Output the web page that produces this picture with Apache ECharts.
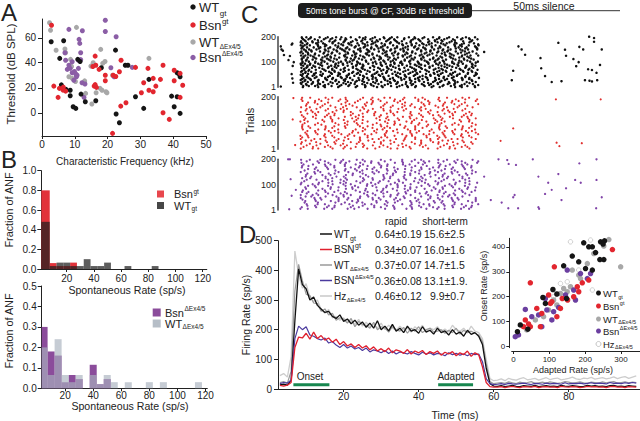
<!DOCTYPE html>
<html><head><meta charset="utf-8">
<script src="https://cdn.jsdelivr.net/npm/echarts@6/dist/echarts.min.js"></script>
<style>html,body{margin:0;padding:0;background:#fff}#c{width:640px;height:421px}</style>
</head><body><div id="c"></div>
<script>
// ---------- Panel A: threshold vs CF [kHz, dB SPL] ----------
const aWtGt = [[2.8,56.8],[6.6,57.6],[5.4,43.5],[10.9,42.7],[11.6,41],[22.4,50.1],[18.1,36],[25.4,38],[26.2,38],[5.9,22.3],[7.3,18.7],[8.6,18],[8.6,13.6],[11.9,14.9],[9.5,4.8],[10.3,3.5],[13.2,8.8],[16.4,9.6],[22.6,-1],[23.6,-8],[28.5,12.8],[31,3.5],[32.6,26.7],[39.5,13.3],[41.2,12.8],[40.3,4.8],[42.1,-0.5],[41.2,32],[42.1,28.8],[41.8,31]];
const aBsnGt = [[2.9,70],[3.6,21.3],[5.3,19.5],[6.4,18.1],[7.2,17.3],[4.9,12.3],[6.5,20.5],[16.2,45.3],[16.4,38],[17.4,34.7],[15.9,21.3],[16.6,20.3],[16.2,22.5],[19.3,30],[19.3,25.6],[21.7,30],[22.5,29],[23.6,32.8],[24.1,42],[21.5,-16.5],[24,5.3],[25.6,8],[28.5,36.3],[32.3,35.5],[31,24],[32.6,18],[33.9,27.5],[34.7,21.3],[33.9,16.8],[36.1,26.7],[36.9,38],[30.3,16],[40.3,34],[40.3,25.6],[42.9,22],[42.1,12.3],[36.9,0],[38.8,-5.3],[42.1,31.5],[15.5,37]];
const aWtD = [[2.3,72],[2.6,66],[4.3,50],[7,51],[7.2,48],[8.7,42.7],[10.5,68.3],[17.7,75.5],[17.9,50.7],[15.6,40],[14.9,37.3],[18.5,39.5],[19.2,41],[9,37],[8.2,28.8],[9.2,27.5],[10.2,25],[13,24.8],[13.3,15.5],[17.7,19.5],[18.3,18],[19.5,16.8],[16.5,16],[15.2,7],[32.6,43.5],[21.5,30],[13,25.5],[8.5,38],[19.8,16]];
const aBsnD = [[8.2,66.7],[19.3,74],[12.3,65.6],[11.3,58.7],[11.5,55.5],[11.8,48],[22.6,60.8],[19.3,65],[7,48],[7.2,42],[9.2,40.8],[11.1,42],[11.8,42.5],[7.7,34.7],[8.6,35.5],[9.2,32],[9.9,33],[10.3,31],[11.1,35.5],[10.5,28.8],[9.7,26],[21,36],[12.8,12.3],[22,28.8],[27.5,36.3],[10.7,30],[8.2,38],[12.2,24],[13.1,23]];

// ---------- Panel B: spontaneous rate histograms ----------
const topBins   = [5,10,15,20,25,30,35,40,45,50,65,85];
const bsnGtFrac = [0.80,0.06,0.03,0.03,0.065,0,0,0,0,0,0,0];
const wtGtFrac  = [0.48,0.03,0.065,0.065,0.03,0.03,0.10,0.03,0.03,0.065,0.03,0.03];
const botBins   = [5,10,15,20,25,30,40,45,50,55,65,80,90,115];
const bsnDFrac  = [0.30,0.18,0.16,0.03,0.065,0.045,0.115,0.02,0.045,0,0,0,0,0];
const wtDFrac   = [0.20,0.065,0.24,0.065,0.03,0.065,0.065,0.02,0.065,0.03,0.03,0.03,0.03,0.03];

// ---------- Panel C: rasters (time ms re tone onset, trial) ----------
const blackRows = [
[198,0.8,2.1,3.4,5.9,8.2,10.6,12.1,14.8,17.3,19.0,21.7,24.2,26.5,28.1,31.4,33.0,35.8,38.3,40.1,42.9,45.2,47.7,50.3],
[190,1.2,2.7,4.5,7.1,9.0,11.8,13.5,16.2,18.9,20.4,23.1,25.7,27.2,30.0,32.6,34.1,36.9,39.4,41.5,44.0,46.3,48.8,51.0],
[182,0.6,1.9,3.8,6.4,8.7,10.1,13.0,15.3,17.8,20.9,22.5,24.9,27.8,29.4,31.9,34.7,37.2,38.9,41.0,43.6,46.9,49.2],
[174,1.0,2.4,4.9,6.9,9.6,11.3,14.1,16.7,18.2,21.2,23.6,26.0,28.6,30.7,33.5,35.2,37.9,40.6,42.2,45.0,47.1,50.0],
[166,0.5,1.6,3.1,5.4,7.8,10.4,12.6,15.0,17.1,19.6,22.0,24.5,26.9,29.7,32.2,34.4,36.4,39.0,41.8,44.5,46.0,48.5,51.3],
[158,0.9,2.3,4.2,6.1,8.9,11.0,13.8,15.9,18.5,20.7,23.4,25.3,28.0,30.4,32.9,35.5,38.0,40.4,42.6,45.6,47.9,50.6],
[150,1.4,2.9,5.0,7.4,9.9,12.3,14.4,16.9,19.4,21.5,24.0,26.3,29.0,31.1,33.7,36.2,38.6,41.2,43.3,46.1,48.3,50.9],
[142,0.7,2.0,3.6,6.0,8.4,10.9,13.2,15.6,17.6,20.1,22.8,25.0,27.5,29.9,32.4,34.9,37.5,39.8,42.4,44.8,47.4,49.6],
[134,1.1,2.6,4.6,7.0,9.3,11.6,14.0,16.4,19.1,21.0,23.9,26.6,28.4,31.0,33.3,35.9,38.1,40.8,43.1,45.4,48.0,50.7],
[126,0.6,1.8,3.3,5.7,8.0,10.3,12.9,15.2,17.5,20.0,22.3,24.7,27.0,29.6,32.0,34.5,36.7,39.3,41.9,44.2,46.6,49.0,51.2],
[118,1.3,2.5,4.4,6.7,9.1,11.5,13.7,16.0,18.7,21.3,23.3,25.9,28.3,30.9,33.1,35.6,38.4,40.9,43.4,45.8,48.6],
[110,0.8,2.2,3.9,6.3,8.5,10.8,13.3,15.7,18.0,20.6,22.9,25.5,27.7,30.2,32.7,35.0,37.4,39.6,42.0,44.7,47.2,49.9],
[102,1.0,2.8,4.7,7.3,9.8,12.0,14.5,16.6,19.2,21.8,24.4,26.2,29.2,31.5,33.9,36.5,38.8,41.4,43.8,46.4,48.9,51.1],
[94,0.5,1.7,3.2,5.5,8.1,10.5,12.5,15.1,17.4,19.8,22.1,24.8,27.3,29.5,31.8,34.3,37.0,39.2,41.6,44.3,46.8,49.4],
[86,1.2,2.4,4.1,6.6,9.2,11.2,13.9,16.3,18.4,21.1,23.7,26.1,28.5,30.8,33.6,36.0,38.2,40.7,43.0,45.5,47.8,50.4],
[78,0.7,2.1,3.7,5.8,8.3,10.7,13.1,15.4,17.9,20.3,22.6,25.2,27.6,30.1,32.3,34.8,37.3,39.9,42.3,44.9,47.5,49.8],
[70,1.5,2.9,4.8,7.2,9.5,11.9,14.2,16.8,18.8,21.4,24.1,26.4,28.8,31.2,33.4,36.1,38.5,41.1,43.5,46.2,48.4,51.0],
[62,0.6,1.9,3.5,6.2,8.6,10.2,12.7,15.5,17.7,20.2,22.4,25.1,27.4,29.8,32.5,34.6,37.1,39.5,42.1,44.6,47.0,49.5],
[54,1.1,2.6,4.3,6.8,9.4,11.7,14.3,16.5,19.3,21.6,23.8,26.7,28.9,31.3,33.8,36.3,38.7,40.5,43.2,45.9,48.2,50.8],
[46,0.9,2.3,3.9,6.5,8.8,11.1,13.6,15.8,18.3,20.8,23.2,25.6,27.9,30.3,32.8,35.3,37.6,40.0,42.7,45.1,47.6,50.1],
[38,1.3,2.7,4.5,7.5,9.7,12.2,14.6,17.0,19.5,21.9,24.3,26.8,29.1,31.6,34.0,36.6,38.9,41.3,43.7,46.5,48.7,51.4],
[30,0.5,1.8,3.4,5.6,8.0,10.6,12.8,15.3,17.2,19.9,22.2,24.6,27.1,29.3,31.7,34.2,36.8,39.1,41.7,44.1,46.7,49.3],
[22,1.0,2.5,4.0,6.9,9.0,11.4,14.0,16.1,18.6,21.2,23.5,26.0,28.2,30.6,33.2,35.7,38.3,40.3,42.8,45.3,47.9,50.5],
[14,0.7,2.0,3.6,6.0,8.4,10.9,13.4,15.9,18.1,20.5,22.7,25.4,27.8,30.5,32.6,35.1,37.7,39.7,42.5,44.4,47.3,49.7],
[6,1.2,2.8,4.6,7.0,9.3,11.6,14.1,16.6,19.0,21.3,23.6,26.3,28.7,30.9,33.4,35.9,38.4,41.0,43.4,46.0,48.1,50.2]];
const blackSpont = [[-5.2,162],[-5.0,150],[-4.6,145],[-4.3,128],[-2.1,169],[-1.9,173],[-2.6,124],[-3.0,108],[-2.1,53],[-1.9,36],[-1.7,19],[-5.2,4],[-1.8,85],[-1.5,100],
[52.9,140],[62.7,162],[63.6,150],[64.6,129],[61.2,66],[60.8,29],[69,116],[69.2,76],[70.3,45],[72.2,22],[75,25],[74.1,176],[76,149],[76.3,125],[78.4,112],[80.1,160],[81.2,150],[79.9,100],[79.2,84],[81.7,29],[83,27],[83.7,24],[82.6,72],[83.7,69],[85,58],[85.2,29],[82.9,200],[84.3,195],[84.3,180],[86,89],[86.5,150]];
const spikeRows = {
A:[0.9,3.2,7.6,9.5,13.3,18.3,21.0,24.4,26.0,30.1,33.2,35.3,40.0,42.3,46.7,48.6],
B:[1.6,5.4,10.4,13.1,16.5,18.1,22.2,25.3,27.4,32.1,34.4,38.8,40.7,44.5,49.5],
C:[0.5,3.9,5.5,9.6,12.7,14.8,19.5,21.8,26.2,28.1,31.9,36.9,39.6,43.0,44.6,48.7],
D:[2.2,5.3,7.4,12.1,14.4,18.8,20.7,24.5,29.5,32.2,35.6,37.2,41.3,44.4,46.5,51.2],
E:[1.1,5.5,7.4,11.2,16.2,18.9,22.3,23.9,28.0,31.1,33.2,37.9,40.2,44.6,46.5,50.3],
F:[0.7,5.7,8.4,11.8,13.4,17.5,20.6,22.7,27.4,29.7,34.1,36.0,39.8,44.8,47.5,50.9],
G:[1.9,3.5,7.6,10.7,12.8,17.5,19.8,24.2,26.1,29.9,34.9,37.6,41.0,42.6,46.7],
H:[0.4,2.5,7.2,9.5,13.9,15.8,19.6,24.6,27.3,30.7,32.3,36.4,39.5,41.6,46.3,48.6],
I:[2.6,4.5,8.3,13.3,16.0,19.4,21.0,25.1,28.2,30.3,35.0,37.3,41.7,43.6,47.4],
J:[1.3,4.0,7.4,9.0,13.1,16.2,18.3,23.0,25.3,29.7,31.6,35.4,40.4,43.1,46.5,48.1],
K:[0.8,4.9,8.0,10.1,14.8,17.1,21.5,23.4,27.2,32.2,34.9,38.3,39.9,44.0,47.1,49.2],
L:[2.0,6.7,9.0,13.4,15.3,19.1,24.1,26.8,30.2,31.8,35.9,39.0,41.1,45.8,48.1],
M:[1.0,4.6,6.4,11.3,13.8,16.8,21.1,23.3,27.2,28.9,34.1,36.9,40.2,43.8,45.6,50.5],
N:[0.6,3.1,6.1,10.4,12.6,16.5,18.2,23.4,26.2,29.5,33.1,34.9,39.8,42.3,45.3,49.6],
O:[2.4,4.6,8.5,10.2,15.4,18.2,21.5,25.1,26.9,31.8,34.3,37.3,41.6,43.8,47.7,49.4],
P:[1.5,6.7,9.5,12.8,16.4,18.2,23.1,25.6,28.6,32.9,35.1,39.0,40.7,45.9,48.7],
Q:[0.9,2.7,7.6,10.1,13.1,17.4,19.6,23.5,25.2,30.4,33.2,36.5,40.1,41.9,46.8,49.3],
R:[1.8,4.8,9.1,11.3,15.2,16.9,22.1,24.9,28.2,31.8,33.6,38.5,41.0,44.0,48.3,50.5],
S:[0.5,4.4,6.1,11.3,14.1,17.4,21.0,22.8,27.7,30.2,33.2,37.5,39.7,43.6,45.3,50.5],
T:[2.2,5.0,8.3,11.9,13.7,18.6,21.1,24.1,28.4,30.6,34.5,36.2,41.4,44.2,47.5]};
const blackRowKeys = [[194,'A'],[186,'B'],[178,'C'],[170,'D'],[162,'E'],[154,'F'],[146,'G'],[138,'H'],[130,'I'],[122,'J'],[114,'K'],[106,'L'],[98,'M'],[90,'N'],[82,'O'],[74,'P'],[66,'Q'],[58,'R'],[50,'S'],[42,'T'],[34,'A'],[26,'B'],[18,'C'],[10,'D'],[2,'E']];
const redRowKeys = [[196,'A'],[190,'F'],[184,'M'],[178,'I'],[172,'D'],[166,'L'],[160,'N'],[154,'T'],[148,'G'],[142,'C'],[136,'O'],[130,'K'],[124,'J'],[118,'R'],[112,'P'],[106,'H'],[100,'B'],[94,'M'],[88,'Q'],[82,'A'],[76,'E'],[70,'O'],[64,'R'],[58,'D'],[52,'H'],[46,'Q'],[40,'S'],[34,'G'],[28,'K'],[22,'N'],[16,'T'],[10,'J'],[4,'C']];
const purpleRowKeys = [[198,'N'],[192,'D'],[186,'F'],[180,'J'],[174,'Q'],[168,'K'],[162,'I'],[156,'B'],[150,'S'],[144,'O'],[138,'L'],[132,'G'],[126,'A'],[120,'T'],[114,'P'],[108,'F'],[102,'C'],[96,'I'],[90,'R'],[84,'L'],[78,'E'],[72,'Q'],[66,'T'],[60,'C'],[54,'G'],[48,'S'],[42,'M'],[36,'R'],[30,'B'],[24,'D'],[18,'O'],[12,'K'],[6,'H']];
const redSpont = [[-1.8,114],[-1.1,17],[-1.6,195],[73.4,190],[86.2,190],[61.2,80],[57.6,33],[73.6,26],[74.4,13],[80.8,24]];
const purpleSpont = [[-3.1,200],[-2.6,200],[-2.4,122],[-0.9,80],[-2.1,57],[-2.8,4],[52.9,132],[57,200],[59.5,197],[59.9,182],[62,178],[66.8,200],[80.1,184],[85,200],[68.4,132],[71.2,108],[74.1,142],[72.2,80],[70.3,64],[76.3,86],[78.9,119],[80.5,108],[85,119],[75,40],[86.5,51],[54.8,40],[57.9,30],[59.8,8],[62.6,8],[68.4,12],[68.6,6],[84.9,8],[61.2,51],[61.6,60]];

// ---------- Panel D: PSTH ----------
const psthTime = [3,4,5,6,7,8,9,10,11,12,13,14,15,16,17,18,19,20,21,22,23,24,25,26,27,28,29,30,31,32,33,34,35,36,37,38,39,40,41,42,43,44,45,46,47,48,49,50,51,52,53,54,55,56,57,58,59,60,61,62,63,64,65,66,67,68,69,70,71,72,73,74,75,76,77,78,79,80,81,82,83,84,85,86,87,88,89,90,91,92,93,94,95,96,97,98];
const psthWtGt = [14,16,13,30,230,405,352,338,300,310, 282,270,258,262,245,238,250,228,236,220, 232,215,226,208,222,205,230,200,212,196, 218,195,205,190,212,195,200,188,210,192, 198,185,205,190,196,182,200,185,192,178, 198,184,190,178,150,70,18,10,9,11, 8,10,12,9,8,11,10,9,12,8, 10,11,9,10,8,12,10,9,11,10, 8,9,12,10,11,9,10,8,11,12, 9,10,8,11,10,9];
const psthWtD = [22,25,20,60,330,420,365,320,315,290, 288,262,270,250,255,232,240,235,222,238, 210,228,218,215,205,225,200,210,205,192, 210,200,195,208,188,205,195,210,190,200, 205,192,195,200,188,198,190,205,185,198, 190,195,188,182,160,85,25,18,20,22, 19,24,21,18,23,20,22,25,19,21, 23,20,24,22,19,21,25,23,20,22, 24,21,19,23,22,20,24,21,23,25, 20,22,24,21,23,22];
const psthHzD = [45,52,40,110,465,385,340,355,310,295, 300,268,255,268,240,245,232,240,225,230, 218,235,212,225,210,218,205,222,200,215, 205,198,212,200,205,192,210,198,215,195, 205,200,210,195,202,192,215,200,195,205, 190,212,195,190,170,100,35,28,30,34, 28,36,32,30,35,38,31,33,36,30, 34,38,32,35,37,31,33,36,40,34, 32,37,35,39,33,36,38,34,37,41, 35,39,42,36,40,44];
const psthBsnGt = [12,10,13,22,140,175,172,188,168,192, 170,180,165,172,158,168,150,160,145,152, 140,150,138,146,132,142,128,136,126,138, 122,132,128,120,133,118,128,122,130,116, 126,120,128,114,124,118,126,112,122,116, 128,110,122,115,75,22,8,6,6,8, 5,7,9,6,5,8,7,6,9,5, 7,8,6,7,5,9,7,6,8,7, 5,6,9,7,8,6,7,5,8,9, 6,7,5,8,7,6];
const psthBsnD = [18,22,20,30,170,212,200,210,182,178, 170,165,172,155,160,148,140,150,138,145, 135,140,130,138,125,132,128,122,130,120, 128,118,125,122,118,126,120,115,124,118, 122,115,120,118,112,122,116,120,114,118, 112,120,116,118,92,35,18,15,16,18, 15,19,17,16,18,20,17,15,19,18, 16,20,17,19,18,16,21,17,19,18, 20,17,19,21,18,20,19,17,22,19, 20,18,21,19,22,20];
const onsetWindow = [6.6,16.2], adaptedWindow = [45.2,54.5], windowLevel = 14.5;
const statNames = ['WT','BSN','WT','BSN','Hz'];
const statScripts = ['gt','gt','ΔEx4/5','ΔEx4/5','ΔEx4/5'];
const rapidVals = ['0.64±0.19','0.34±0.07','0.37±0.07','0.36±0.08','0.46±0.12'];
const shortVals = ['15.6±2.5','16.0±1.6','14.7±1.5','13.1±1.9.','9.9±0.7'];

// ---------- Panel D inset: onset vs adapted rate ----------
const insWtGt = [[243,420],[254,424],[250,411],[196,416],[210,400],[229,377],[252,349],[241,349],[164,363],[140,324],[201,313],[220,307],[82,197],[110,229],[121,211],[148,193],[19,87],[11,60],[182,340],[89,173],[220,400],[40,70]];
const insBsnGt = [[276,389],[114,320],[47,256],[65,153],[33,107],[28,80],[42,91],[98,207],[107,180],[131,153],[151,187],[182,220],[192,256],[178,240],[136,193],[79,133],[121,120],[47,80],[210,267],[75,80],[103,173],[168,200]];
const insWtD = [[266,429],[299,320],[252,403],[224,373],[164,307],[182,287],[159,240],[140,233],[112,187],[98,147],[84,120],[61,107],[37,67],[206,333],[131,213],[187,273],[121,167],[150,220]];
const insBsnD = [[5,40],[14,47],[33,149],[89,193],[93,147],[112,140],[126,157],[145,207],[173,187],[206,273],[215,293],[187,293],[150,307],[107,107],[79,80],[51,120],[70,127],[168,227]];
const insHzD = [[159,420],[215,427],[220,227],[182,307],[150,260],[131,253],[112,200]];

// ================= rendering =================
const FF = "'Liberation Sans', Arial, Helvetica, sans-serif";
const INK = '#222';
const C_BLACK='#151515', C_RED='#e2262f', C_GRAY='#a8a8a8', C_PURP='#8b5ea6';
const mctx = document.createElement('canvas').getContext('2d');
function tw(s, fs){ mctx.font = fs + 'px ' + FF; return mctx.measureText(s).width; }
function T(x, y, text, fs, opt){ opt = opt || {};
  return {type:'text', x:x, y:y, rotation: opt.rot || 0, silent:true, z:50,
    style:{text:text, fill: opt.color || INK, font: fs + 'px ' + FF,
      textAlign: opt.align || 'left', align: opt.align || 'left',
      textVerticalAlign: 'middle', verticalAlign: 'middle'}};
}
function TS(x, y, main, fs, script, sfs, dy){
  const a = [T(x, y, main, fs)];
  if (script) a.push(T(x + tw(main, fs) + 0.5, y + dy, script, sfs));
  return a;
}
function ax(gi, min, max, ticks, o, extra){
  o = o || {};
  const lab = {show: ticks !== null, customValues: ticks || undefined, fontSize: o.fs || 10, color: INK, fontFamily: FF, margin: o.margin == null ? 3 : o.margin};
  if (o.fmt) lab.formatter = o.fmt;
  return Object.assign({type:'value', gridIndex:gi, min:min, max:max, splitLine:{show:false},
    axisLine:{show:true, onZero:false, lineStyle:{color: o.lc || '#222', width: o.lw || 1}},
    axisTick:{show: ticks !== null && o.tick !== 0, length: o.tick || 3, inside:false, customValues: ticks || undefined, lineStyle:{color:'#222'}},
    axisLabel: lab}, extra || {});
}
const fmt1 = v => v.toFixed(1);
function hist(gi, bins, frac, fill, xMin, z){
  return {type:'custom', xAxisIndex:gi, yAxisIndex:gi, z:z, silent:true,
    data: bins.map((c,i)=>[c, frac[i]]).filter(d=>d[1]>0),
    encode:{x:0, y:1},
    renderItem: function(params, api){
      const c = api.value(0), h = api.value(1);
      const lo = (c - 2.5 < 3) ? xMin : c - 2.5;
      const p0 = api.coord([lo, h]), p1 = api.coord([c + 2.5, 0]);
      return {type:'rect', shape:{x:p0[0], y:p0[1], width:p1[0]-p0[0], height:p1[1]-p0[1]}, style:{fill:fill}};
    }};
}
function rowsToPts(rows){ const out=[]; rows.forEach(r=>{ for(let i=1;i<r.length;i++) out.push([r[i], r[0]]); }); return out; }
function keyedRows(keys){ return keys.map(k => [k[0]].concat(spikeRows[k[1]])); }
function sc(gi, data, color, size, z, extra){
  return Object.assign({type:'scatter', xAxisIndex:gi, yAxisIndex:gi, data:data, symbol:'circle', symbolSize:size, silent:true, z:z||2,
    itemStyle:{color:color, opacity:1}}, extra||{});
}
function ln(data, color, w){
  return {type:'line', xAxisIndex:6, yAxisIndex:6, data: psthTime.map((t,i)=>[t, data[i]]), showSymbol:false, symbol:'none', silent:true,
    lineStyle:{color:color, width:w||1.2}, itemStyle:{color:color}};
}

const grids = [
  {left:42, top:19, width:164, height:117},
  {left:41.3, top:170.7, width:165.5, height:98.3},
  {left:41.7, top:286, width:165.6, height:102.3},
  {left:278, top:36.7, width:350, height:50.6},
  {left:278, top:96.7, width:350, height:52.6},
  {left:278, top:159.3, width:350, height:50.7},
  {left:278, top:240.7, width:362, height:148.3},
  {left:511.7, top:238.3, width:128.3, height:109.4}
].map(g => Object.assign({containLabel:false, outerBoundsMode:'none'}, g));

const xAxes = [
  ax(0, 0, 50, [0,10,20,30,40,50], {margin:3}),
  ax(1, 1.3, 123, [20,40,60,80,100,120], {margin:4}),
  ax(2, 3.3, 121.3, [20,40,60,80,100,120], {margin:2}),
  ax(3, -6, 94, null, {}, {show:false}),
  ax(4, -6, 94, null, {}, {show:false}),
  ax(5, -6, 94, null, {}, {show:false}),
  ax(6, 2.5, 99, [20,40,60,80], {margin:2}),
  ax(7, -5, 353, [0,100,200,300], {fs:8, margin:4}, {offset:3.3})
];
const yAxes = [
  ax(0, -18.6, 75, [0,20,40,60], {margin:6, tick:4}),
  ax(1, 0, 1, [0,0.2,0.4,0.6,0.8,1.0], {margin:5, tick:4, fmt:fmt1}),
  ax(2, 0, 0.5, [0,0.1,0.2,0.3,0.4,0.5], {margin:5, tick:4, fmt:fmt1}),
  ax(3, 1, 200, [1,100,200], {fs:9, margin:2, tick:0, lc:'#444', lw:1.5}),
  ax(4, 1, 200, [1,100,200], {fs:9, margin:2, tick:0, lc:'#444', lw:1.5}),
  ax(5, 1, 200, [1,100,200], {fs:9, margin:2, tick:0, lc:'#444', lw:1.5}),
  ax(6, 0, 500, [0,100,200,300,400,500], {margin:6, tick:4}),
  ax(7, -4, 434, [0,100,200,300,400], {fs:8, margin:4}, {offset:2.4})
];

const series = [
  sc(0, aWtD, C_GRAY, 5), sc(0, aBsnD, C_PURP, 5), sc(0, aWtGt, C_BLACK, 5), sc(0, aBsnGt, C_RED, 5),
  hist(1, topBins, bsnGtFrac, '#e2323a', 1.3, 2),
  hist(1, topBins, wtGtFrac, 'rgba(30,30,30,0.72)', 1.3, 3),
  hist(2, botBins, bsnDFrac, '#8b4c9b', 3.3, 2),
  hist(2, botBins, wtDFrac, 'rgba(168,178,190,0.66)', 3.3, 3),
  sc(3, rowsToPts(blackRows).concat(rowsToPts(keyedRows(blackRowKeys)), blackSpont), '#111', 2.5),
  sc(4, rowsToPts(keyedRows(redRowKeys)).concat(redSpont), '#e0302f', 2.2),
  sc(5, rowsToPts(keyedRows(purpleRowKeys)).concat(purpleSpont), '#8044a8', 2.3),
  ln(psthHzD, '#cdcdcd', 1.3), ln(psthWtD, '#9a9a9a', 1.2), ln(psthWtGt, '#111', 1.3),
  ln(psthBsnD, '#4b3a9e', 1.2), ln(psthBsnGt, '#e0202e', 1.3),
  {type:'line', xAxisIndex:6, yAxisIndex:6, data: onsetWindow.map(t=>[t, windowLevel]), symbol:'none', silent:true, lineStyle:{color:'#17874f', width:3}},
  {type:'line', xAxisIndex:6, yAxisIndex:6, data: adaptedWindow.map(t=>[t, windowLevel]), symbol:'none', silent:true, lineStyle:{color:'#17874f', width:3}},
  sc(7, insHzD, '#fff', 4.5, 2, {symbol:'circle', itemStyle:{color:'#fff', borderColor:'#c4c4c4', borderWidth:1}}),
  sc(7, insWtD, C_GRAY, 5.5), sc(7, insBsnD, '#6b3fa0', 5.5), sc(7, insBsnGt, C_RED, 5.5), sc(7, insWtGt, C_BLACK, 5.5)
];

// ---------- text / annotation graphics ----------
let g = [];
g.push(T(1, 12, 'A', 24), T(1, 159, 'B', 24), T(241, 14, 'C', 24), T(239, 234, 'D', 24));
g.push(T(11, 74, 'Threshold (dB SPL)', 11.5, {rot:Math.PI/2, align:'center'}));
g.push(T(125, 161, 'Characteristic Frequency (kHz)', 10, {align:'center'}));
g.push(T(9, 210, 'Fraction of ANF', 10.8, {rot:Math.PI/2, align:'center'}));
g.push(T(9, 331, 'Fraction of ANF', 10.8, {rot:Math.PI/2, align:'center'}));
g.push(T(127, 290, 'Spontaneous Rate (sp/s)', 10.6, {align:'center'}));
g.push(T(130, 406, 'Spontaneous Rate (sp/s)', 10.6, {align:'center'}));
g.push(T(250, 121, 'Trials', 11, {rot:Math.PI/2, align:'center'}));
g.push(T(246, 315, 'Firing Rate (sp/s)', 10.5, {rot:Math.PI/2, align:'center'}));
g.push(T(455, 415, 'Time (ms)', 10.5, {align:'center'}));
g.push(T(484, 286, 'Onset Rate (sp/s)', 9, {rot:Math.PI/2, align:'center'}));
g.push(T(573, 370, 'Adapted Rate (sp/s)', 9, {align:'center'}));
g.push(T(310, 376.5, 'Onset', 10, {align:'center'}), T(456, 376.5, 'Adapted', 10, {align:'center'}));
// panel A legend
const aLeg = [[C_BLACK,'WT','gt',6,7],[C_RED,'Bsn','gt',-4,25],[C_GRAY,'WT','ΔEx4/5',4,42],[C_PURP,'Bsn','ΔEx4/5',-4,57.5]];
aLeg.forEach(r => { g.push({type:'circle', shape:{cx:193, cy:r[4], r:2.7}, style:{fill:r[0]}, silent:true});
  g = g.concat(TS(199, r[4], r[1], 13, r[2], r[2]==='gt'?8:6.5, r[3])); });
// panel B legends
g.push({type:'rect', shape:{x:157, y:190.5, width:7, height:7}, style:{fill:'#e8474d'}, silent:true});
g.push({type:'rect', shape:{x:157, y:202, width:7, height:7}, style:{fill:'#474747'}, silent:true});
g = g.concat(TS(174, 194, 'Bsn', 11, 'gt', 6.5, -3), TS(174, 205.5, 'WT', 11, 'gt', 6.5, 3));
g.push({type:'rect', shape:{x:152.7, y:308.5, width:8, height:8}, style:{fill:'#8b4c9b'}, silent:true});
g.push({type:'rect', shape:{x:152.7, y:319.5, width:8, height:8}, style:{fill:'#b6bec7'}, silent:true});
g = g.concat(TS(165, 312.5, 'Bsn', 11, 'ΔEx4/5', 6.5, -4), TS(165, 323.5, 'WT', 11, 'ΔEx4/5', 6.5, 3));
// panel C header
g.push({type:'rect', shape:{x:298, y:3, width:174, height:15, r:4}, style:{fill:'#1c1c1c'}, silent:true});
g.push(T(385, 10.8, '50ms tone burst @ CF, 30dB re threshold', 8.6, {color:'#fff', align:'center'}));
g.push({type:'line', shape:{x1:472, y1:10.7, x2:620, y2:10.7}, style:{stroke:'#333', lineWidth:1}, silent:true});
g.push(T(544, 5.8, '50ms silence', 10.5, {align:'center'}));
// panel D legend + stats
const dCols = ['#111','#e0202e','#9a9a9a','#4b3a9e','#c8c8c8'];
const dRows = [234, 249.5, 265, 280.5, 296];
g.push(T(396, 221, 'rapid', 10, {align:'center'}), T(445, 221, 'short-term', 10, {align:'center'}));
dRows.forEach((y,i) => {
  g.push({type:'line', shape:{x1:320, y1:y, x2:332, y2:y}, style:{stroke:dCols[i], lineWidth:1.5}, silent:true});
  const isSup = statNames[i]==='BSN';
  g = g.concat(TS(334, y, statNames[i], 10, statScripts[i], statScripts[i]==='gt'?7:5.8, isSup?-4:4));
  g.push(T(375, y, rapidVals[i], 10.5));
  g.push(T(i===4 ? 430 : 424, y, shortVals[i], 10.5));
});
// inset legend
const iLeg = [[C_BLACK,'WT','gt',4,293],[C_RED,'Bsn','gt',-3,306],[C_GRAY,'WT','ΔEx4/5',3,319],[ '#6b3fa0','Bsn','ΔEx4/5',-3,331],[null,'Hz','ΔEx4/5',3,344]];
iLeg.forEach(r => {
  g.push({type:'circle', shape:{cx:598.5, cy:r[4], r:2.5}, style: r[0] ? {fill:r[0]} : {fill:'#fff', stroke:'#c4c4c4', lineWidth:1}, silent:true, z:60});
  g = g.concat(TS(603, r[4], r[1], 9.5, r[2], 5.5, r[3]));
});

const chart = echarts.init(document.getElementById('c'), null, {renderer:'svg', width:640, height:421});
chart.setOption({animation:false, backgroundColor:'#fff', textStyle:{fontFamily:FF},
  grid:grids, xAxis:xAxes, yAxis:yAxes, series:series, graphic:{elements:g}});
</script></body></html>
